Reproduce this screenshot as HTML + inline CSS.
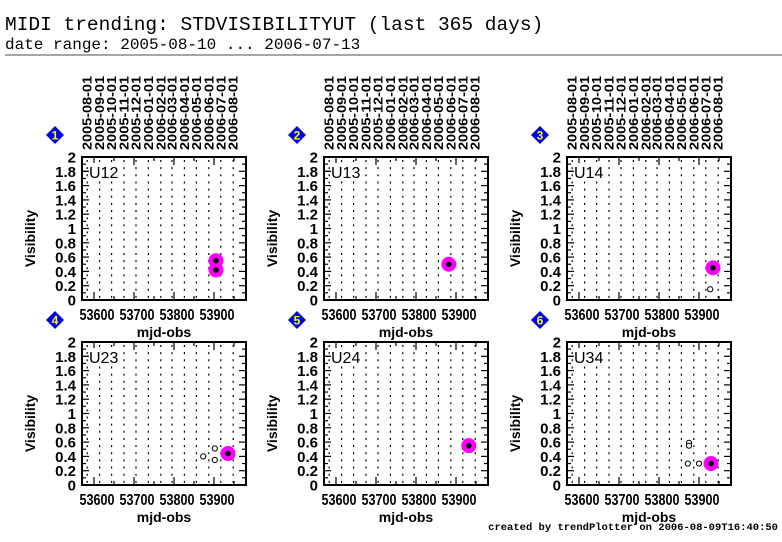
<!DOCTYPE html>
<html><head><meta charset="utf-8"><style>
body{margin:0;background:#fff;width:782px;height:542px;overflow:hidden}
svg{display:block}
text{font-family:"Liberation Sans",sans-serif}
</style></head><body>
<svg id="chart" width="782" height="542" viewBox="0 0 782 542" xmlns="http://www.w3.org/2000/svg">
<text x="5" y="30" style="font-family:'Liberation Mono',monospace" font-size="19.5">MIDI trending: STDVISIBILITYUT (last 365 days)</text>
<text x="5" y="49" style="font-family:'Liberation Mono',monospace" font-size="16">date range: 2005-08-10 ... 2006-07-13</text>
<line x1="5" y1="55" x2="782" y2="55" stroke="#888" stroke-width="1.5"/>
<text x="778" y="530" text-anchor="end" style="font-family:'Liberation Mono',monospace" font-weight="bold" font-size="10.5">created by trendPlotter on 2006-08-09T16:40:50</text>
<g id="panels"></g>
</svg>
<script>
const baselines = ["U12","U13","U14","U23","U24","U34"];
const xTicks = [53600,53700,53800,53900];
const yTicks = [0,0.2,0.4,0.6,0.8,1,1.2,1.4,1.6,1.8,2];
const yTickLabels = ["0","0.2","0.4","0.6","0.8","1","1.2","1.4","1.6","1.8","2"];
const monthLabels = ["2005-08-01","2005-09-01","2005-10-01","2005-11-01","2005-12-01","2006-01-01","2006-02-01","2006-03-01","2006-04-01","2006-05-01","2006-06-01","2006-07-01","2006-08-01"];
const monthMjd = [53583,53614,53644,53675,53705,53736,53767,53795,53826,53856,53887,53917,53948];
// highlighted (filled) points per panel
const filledMjd = [[53905,53905],[53882],[53935],[53935],[53932],[53930]];
const filledVal = [[0.55,0.42],[0.5],[0.45],[0.44],[0.55],[0.30]];
// open points per panel
const openMjd = [[],[],[53928],[53873,53902,53902],[],[53872,53900,53875,53875]];
const openVal = [[],[],[0.15],[0.40,0.51,0.35],[],[0.30,0.30,0.59,0.55]];
const X_MIN=53570, X_MAX=53980, Y_MIN=0, Y_MAX=2;
const NS="http://www.w3.org/2000/svg";
const root=document.getElementById('panels');
function mk(tag,attrs,parent){const e=document.createElementNS(NS,tag);for(const k in attrs)e.setAttribute(k,attrs[k]);(parent||root).appendChild(e);return e;}
const lefts=[82,324,567], tops=[157,342], W=164, H=143;
baselines.forEach((bl,i)=>{
  const L=lefts[i%3], T=tops[Math.floor(i/3)];
  const xs=v=>L+(v-X_MIN)/(X_MAX-X_MIN)*W;
  const ys=v=>T+H-(v-Y_MIN)/(Y_MAX-Y_MIN)*H;
  const g=mk('g',{});
  
  
  monthMjd.forEach((m,j)=>{
    const x=xs(m);
    const ln=mk('line',{x1:x,y1:T+3,x2:x,y2:T+H,stroke:'#000','stroke-width':1.2,'stroke-dasharray':'2,5.15'},g);
    
    
    if(i<3){
      const t=mk('text',{x:0,y:0,'font-size':12.5,'font-weight':'bold',textLength:74,lengthAdjust:'spacingAndGlyphs',transform:`translate(${x+4.5},${T-7}) rotate(-90)`},g);
      t.textContent=monthLabels[j];
      
      
    }
  });
  const fr=mk('rect',{x:L,y:T,width:W,height:H,fill:'none',stroke:'#000','stroke-width':2},g);
  
  
  for(let k=0;k<=20;k++){
    const v=k*0.1,y=ys(v),len=(k%2==0)?7:4;
    mk('line',{x1:L,y1:y,x2:L+len,y2:y,stroke:'#000','stroke-width':1.2},g);
    mk('line',{x1:L+W,y1:y,x2:L+W-len,y2:y,stroke:'#000','stroke-width':1.2},g);
  }
  yTicks.forEach((v,k)=>{
    const t=mk('text',{x:L-6,y:ys(v)+5.5,'text-anchor':'end','font-size':15,'font-weight':'bold'},g);
    t.textContent=yTickLabels[k];
    
    
  });
  for(let m=53600;m<=53975;m+=50){
    const x=xs(m),len=(m%100==0)?8:4;
    mk('line',{x1:x,y1:T+H,x2:x,y2:T+H-len,stroke:'#000','stroke-width':1.2},g);
    mk('line',{x1:x,y1:T,x2:x,y2:T+len,stroke:'#000','stroke-width':1.2},g);
  }
  xTicks.forEach(v=>{
    const t=mk('text',{x:xs(v)+3,y:T+H+20,'text-anchor':'middle','font-size':15.5,'font-weight':'bold',textLength:35,lengthAdjust:'spacingAndGlyphs'},g);
    t.textContent=String(v);
    
    
  });
  const xt=mk('text',{x:L+W/2,y:T+H+37,'text-anchor':'middle','font-size':14,'font-weight':'bold'},g);
  xt.textContent='mjd-obs';
  
  
  const yt=mk('text',{x:0,y:0,'text-anchor':'middle','font-size':14,'font-weight':'bold',transform:`translate(${L-47},${T+H/2+10}) rotate(-90)`},g);
  yt.textContent='Visibility';
  
  
  mk('rect',{x:L+6,y:T+6,width:34,height:18,fill:'#fff'},g);
  mk('line',{x1:L,y1:T+14.3,x2:L+7,y2:T+14.3,stroke:'#000','stroke-width':1.2},g);
  const bt=mk('text',{x:L+7,y:T+21,'font-size':16},g);
  bt.textContent=bl;
  
  
  const cx=L-27, cy=T-22;
  const dm=mk('polygon',{points:`${cx},${cy-9} ${cx+9},${cy} ${cx},${cy+9} ${cx-9},${cy}`,fill:'#0000ee'},g);
  
  
  const dn=mk('text',{x:cx,y:cy+4.5,'text-anchor':'middle','font-size':12,'font-weight':'bold',fill:'#ff0'},g);
  dn.textContent=String(i+1);
  openMjd[i].forEach((m,k)=>{
    const c=mk('circle',{cx:xs(m),cy:ys(openVal[i][k]),r:2.6,fill:'#fff',stroke:'#000','stroke-width':1},g);
    
    
  });
  filledMjd[i].forEach((m,k)=>{
    const h=mk('circle',{cx:xs(m),cy:ys(filledVal[i][k]),r:7.5,fill:'#ff00ff'},g);
    
    
  });
  filledMjd[i].forEach((m,k)=>{
    const c=mk('circle',{cx:xs(m),cy:ys(filledVal[i][k]),r:2.8,fill:'#000'},g);
    
    
  });
});
</script>
</body></html>
